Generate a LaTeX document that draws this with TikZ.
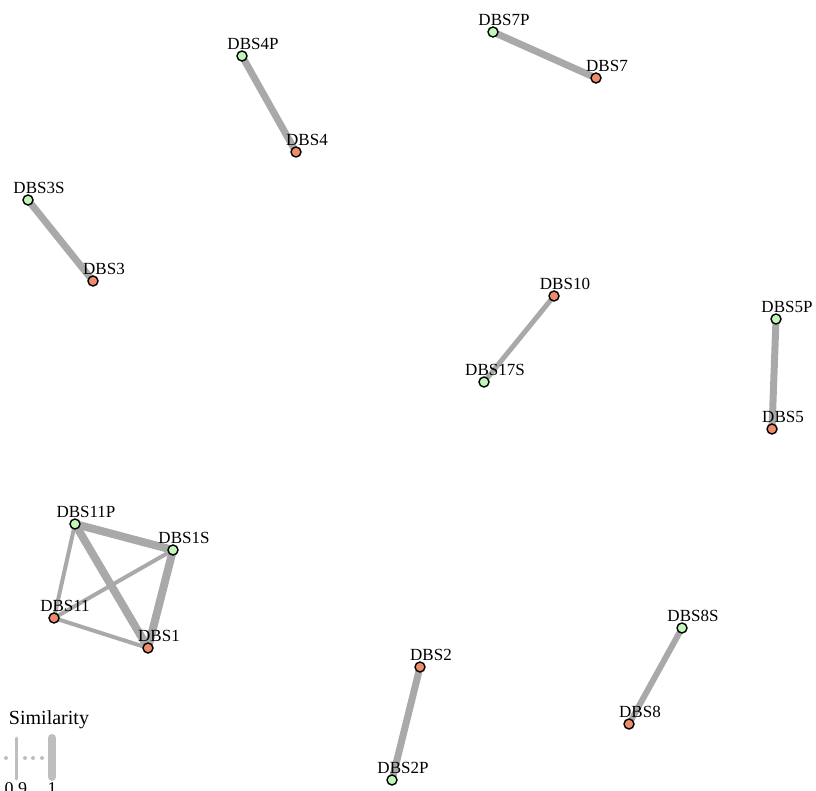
\documentclass[tikz,border=0pt]{standalone}
\usepackage{fontspec}
\setmainfont{Liberation Serif}
\usepackage{tikz}
\usetikzlibrary{backgrounds}

\definecolor{stemgreen}{HTML}{C2F5B8}
\definecolor{baseorange}{HTML}{EE8B6C}
\definecolor{edgegray}{HTML}{A9A9A9}
\definecolor{keygray}{HTML}{BEBEBE}

\tikzset{
  dbs/.style={circle, draw=black, line width=1.4pt, minimum size=10pt, inner sep=0pt},
  pnode/.style={dbs, fill=stemgreen},
  snode/.style={dbs, fill=baseorange},
  sim/.style={draw=edgegray, line width=#1},
  lbl/.style={font=\fontsize{17}{19}\selectfont, inner sep=0pt, xshift=11pt, yshift=12pt}
}

\begin{document}
\begin{tikzpicture}[x=1pt, y=-1pt]
                \useasboundingbox (0,0) rectangle (816,791);

                % Nodes
                \node[pnode, label={[lbl]center:DBS7P}] (7P) at (493,32) {};
                \node[snode, label={[lbl]center:DBS7}] (7) at (596,78) {};
                \node[pnode, label={[lbl]center:DBS4P}] (4P) at (242,56) {};
                \node[snode, label={[lbl]center:DBS4}] (4) at (296,152) {};
                \node[pnode, label={[lbl]center:DBS3S}] (3S) at (28,200) {};
                \node[snode, label={[lbl]center:DBS3}] (3) at (93,281) {};
                \node[snode, label={[lbl]center:DBS10}] (10) at (554,296) {};
                \node[pnode, label={[lbl]center:DBS17S}] (17S) at (484,382) {};
                \node[pnode, label={[lbl]center:DBS5P}] (5P) at (776,319) {};
                \node[snode, label={[lbl]center:DBS5}] (5) at (772,429) {};
                \node[pnode, label={[lbl]center:DBS11P}] (11P) at (75,524) {};
                \node[pnode, label={[lbl]center:DBS1S}] (1S) at (173,550) {};
                \node[snode, label={[lbl]center:DBS11}] (11) at (54,618) {};
                \node[snode, label={[lbl]center:DBS1}] (1) at (148,648) {};
                \node[snode, label={[lbl]center:DBS2}] (2) at (420,667) {};
                \node[pnode, label={[lbl]center:DBS2P}] (2P) at (392,780) {};
                \node[pnode, label={[lbl]center:DBS8S}] (8S) at (682,628) {};
                \node[snode, label={[lbl]center:DBS8}] (8) at (629,724) {};

                % Edges
                \begin{pgfonlayer}{background}
                \draw[sim=7pt] (7P.center)--(7.center);
                \draw[sim=7pt] (4P.center)--(4.center);
                \draw[sim=7pt] (3S.center)--(3.center);
                \draw[sim=5pt] (10.center)--(17S.center);
                \draw[sim=7pt] (5P.center)--(5.center);
                \draw[sim=8pt] (11P.center)--(1.center);
                \draw[sim=8pt] (11P.center)--(1S.center);
                \draw[sim=8pt] (1S.center)--(1.center);
                \draw[sim=4pt] (11.center)--(11P.center);
                \draw[sim=4pt] (11.center)--(1S.center);
                \draw[sim=4pt] (11.center)--(1.center);
                \draw[sim=7pt] (2.center)--(2P.center);
                \draw[sim=6pt] (8S.center)--(8.center);
                \end{pgfonlayer}

                % Legend
                \node[font=\fontsize{20}{22}\selectfont, inner sep=0pt] (title) at (49,720) {Similarity};
                \coordinate (lo top) at (16,738);
                \coordinate (lo bot) at (16,779);
                \coordinate (hi top) at (52,738);
                \coordinate (hi bot) at (52,777);
                \draw[draw=keygray, line width=3pt, line cap=round] (lo top)--(lo bot);
                \draw[draw=keygray, line width=8pt, line cap=round] (hi top)--(hi bot);
                \foreach \x in {6,25,33,42}
                    \fill[keygray] (\x,758) circle (2pt);
                \node[font=\fontsize{18}{20}\selectfont, inner sep=0pt, anchor=north] (lo) at (16,782) {0.9};
                \node[font=\fontsize{18}{20}\selectfont, inner sep=0pt, anchor=north] (hi) at (52,782) {1};
            \end{tikzpicture}
\end{document}
